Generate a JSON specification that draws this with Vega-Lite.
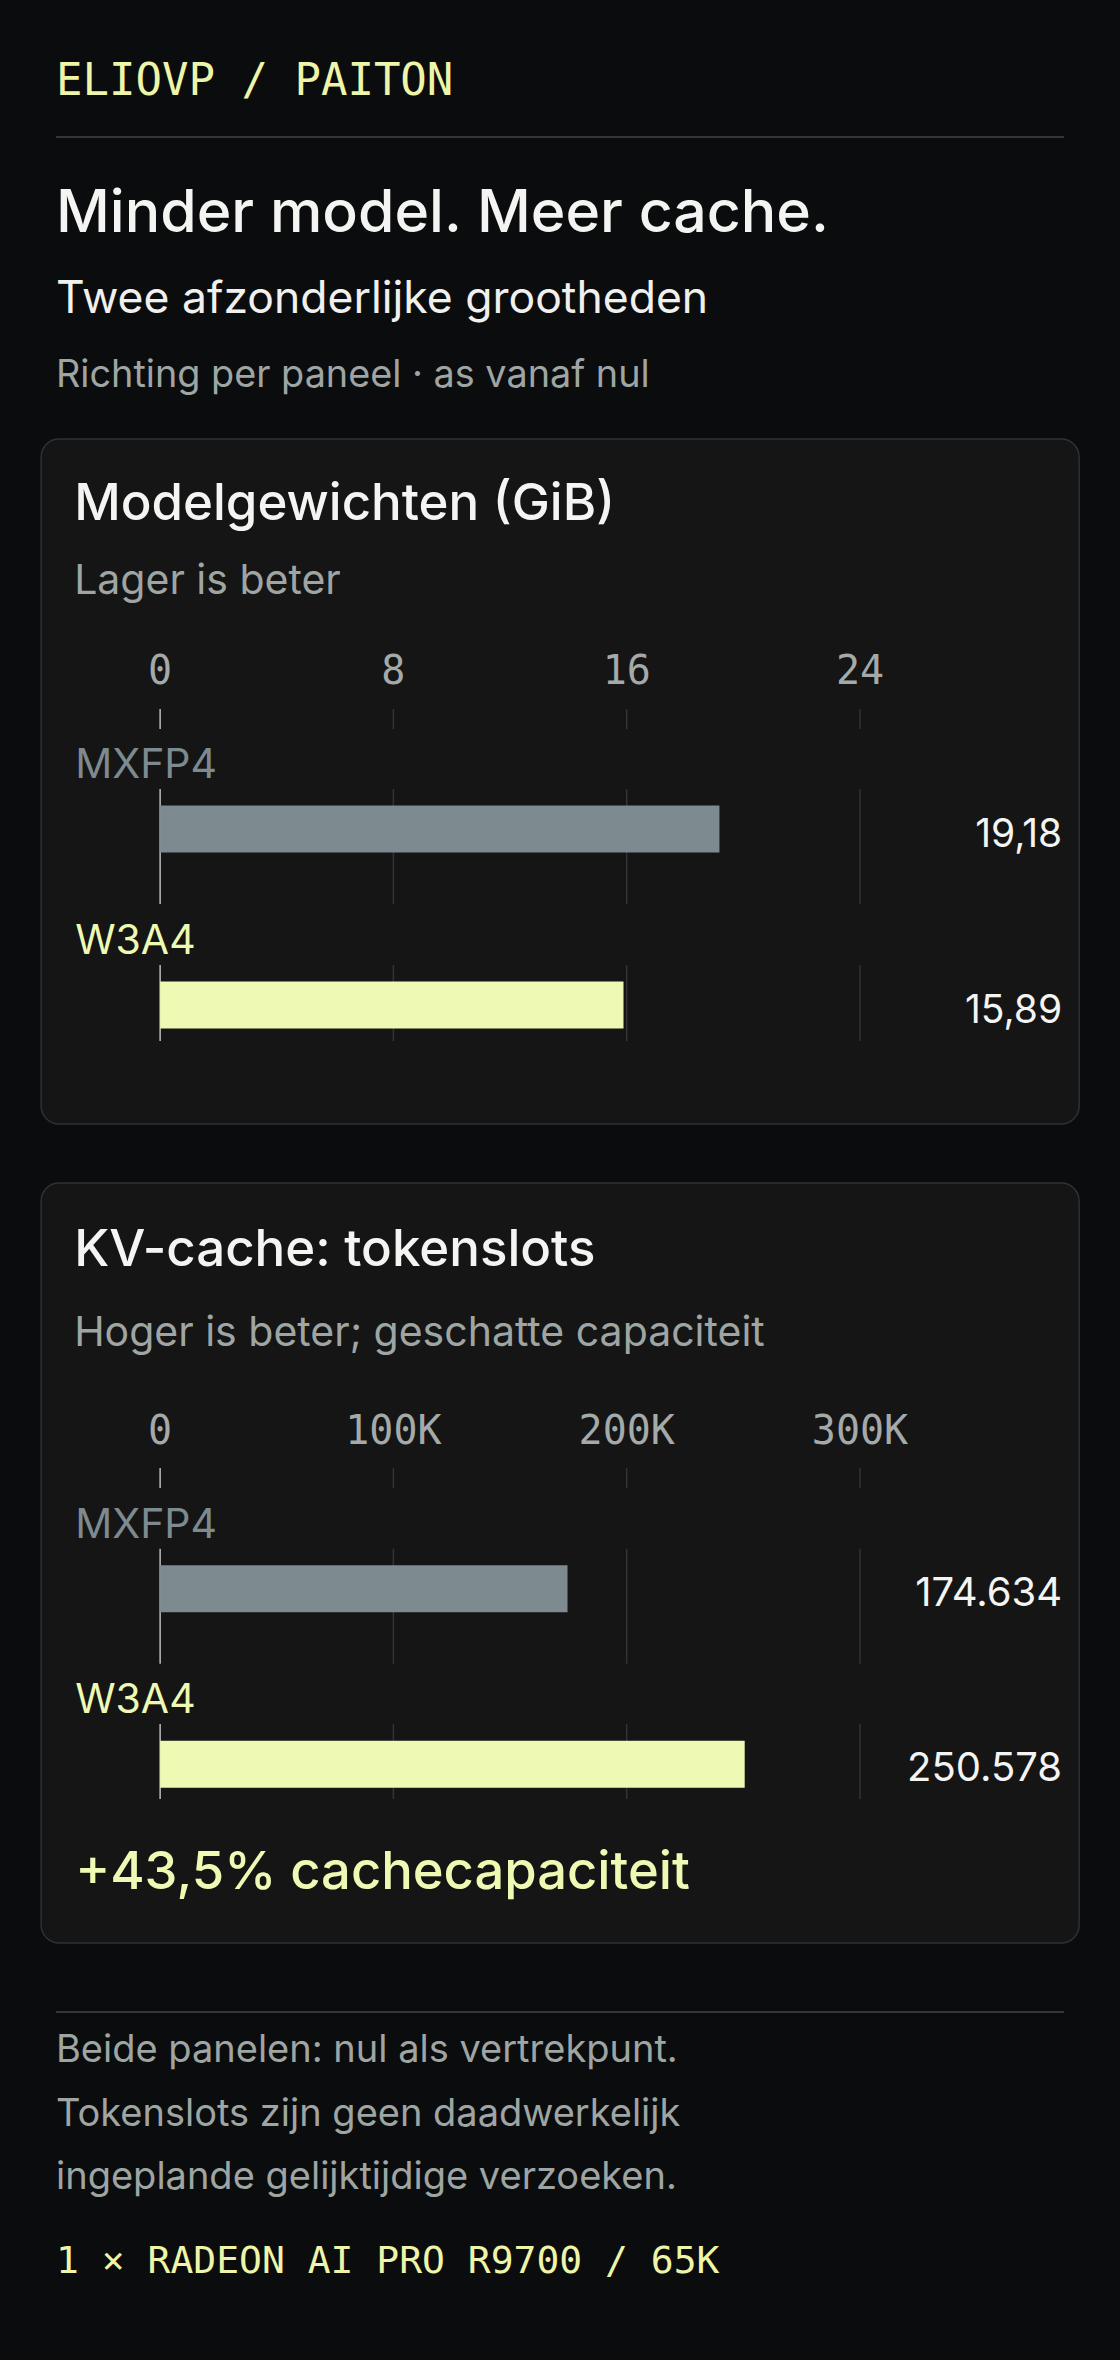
{
  "$schema": "https://vega.github.io/schema/vega-lite/v6.json",
  "background": "#0b0c0d",
  "padding": {"left": 40, "right": 42, "top": 0, "bottom": 0},
  "spacing": 18,
  "center": true,
  "vconcat": [
    {
      "width": 1008,
      "height": 420,
      "view": {"stroke": null},
      "data": {
        "values": [
          {"line": "brand", "text": "ELIOVP / PAITON"},
          {"line": "rule", "text": ""},
          {"line": "title", "text": "Minder model. Meer cache."},
          {"line": "subtitle", "text": "Twee afzonderlijke grootheden"},
          {"line": "note", "text": "Richting per paneel · as vanaf nul"}
        ]
      },
      "encoding": {
        "x": {"datum": 0, "type": "quantitative", "scale": {"domain": [0, 1], "nice": false}, "axis": null},
        "y": {
          "field": "line",
          "type": "nominal",
          "scale": {"type": "point", "domain": ["brand", "rule", "title", "subtitle", "note"], "range": [95, 387], "padding": 0},
          "axis": null
        }
      },
      "layer": [
        {
          "transform": [{"filter": "datum.line === 'brand'"}],
          "mark": {"type": "text", "align": "left", "baseline": "alphabetic", "font": "DejaVu Sans Mono", "fontSize": 44, "color": "#eef5a8"},
          "encoding": {"text": {"field": "text"}}
        },
        {
          "transform": [{"filter": "datum.line === 'rule'"}],
          "mark": {"type": "rule", "color": "#33373a", "strokeWidth": 2, "yOffset": -31},
          "encoding": {"x2": {"datum": 1}}
        },
        {
          "transform": [{"filter": "datum.line === 'title'"}],
          "mark": {"type": "text", "align": "left", "baseline": "alphabetic", "dy": -9, "font": "Inter", "fontSize": 59, "fontWeight": 500, "color": "#f4f4f2"},
          "encoding": {"text": {"field": "text"}}
        },
        {
          "transform": [{"filter": "datum.line === 'subtitle'"}],
          "mark": {"type": "text", "align": "left", "baseline": "alphabetic", "dy": -1, "font": "Inter", "fontSize": 44.5, "color": "#f0f0ee"},
          "encoding": {"text": {"field": "text"}}
        },
        {
          "transform": [{"filter": "datum.line === 'note'"}],
          "mark": {"type": "text", "align": "left", "baseline": "alphabetic", "font": "Inter", "fontSize": 37.8, "color": "#9ea5a3"},
          "encoding": {"text": {"field": "text"}}
        }
      ]
    },
    {
      "spacing": 57,
      "vconcat": [
        {
          "width": 1038,
          "height": 685,
          "view": {"fill": "#151515", "stroke": "#2e3235", "strokeWidth": 1.5, "cornerRadius": 18},
          "title": {
            "text": "Modelgewichten (GiB)",
            "subtitle": "Lager is beter",
            "orient": "top",
            "anchor": "start",
            "frame": "group",
            "offset": -164,
            "dx": 33,
            "font": "Inter",
            "fontSize": 51,
            "fontWeight": 500,
            "color": "#f4f4f2",
            "subtitleFont": "Inter",
            "subtitleFontSize": 41,
            "subtitleColor": "#9ea5a3",
            "subtitlePadding": 31
          },
          "data": {"values": [{"model": "MXFP4", "gib": 19.18}, {"model": "W3A4", "gib": 15.89}]},
          "layer": [
            {
              "data": {"values": [{"tick": 0}, {"tick": 8}, {"tick": 16}, {"tick": 24}]},
              "mark": {"type": "tick", "orient": "vertical", "size": 115, "thickness": 1.5, "yOffset": 17.5, "opacity": 1},
              "encoding": {
                "x": {"field": "tick", "type": "quantitative", "scale": {"domain": [0, 31], "range": [119, 1023], "nice": false, "zero": true}, "axis": null},
                "y": {"datum": "MXFP4", "type": "nominal", "scale": {"domain": ["MXFP4", "W3A4"], "range": [302, 654], "paddingInner": 0, "paddingOuter": 0}, "axis": null},
                "color": {"condition": {"test": "datum.tick === 0", "value": "#b9bdbd"}, "value": "#303437"}
              }
            },
            {
              "data": {"values": [{"tick": 0}, {"tick": 8}, {"tick": 16}, {"tick": 24}]},
              "mark": {"type": "tick", "orient": "vertical", "size": 76, "thickness": 1.5, "yOffset": -2, "opacity": 1},
              "encoding": {
                "x": {"field": "tick", "type": "quantitative", "axis": null},
                "y": {"datum": "W3A4", "type": "nominal", "axis": null},
                "color": {"condition": {"test": "datum.tick === 0", "value": "#b9bdbd"}, "value": "#303437"}
              }
            },
            {
              "data": {"values": [{"tick": 0}, {"tick": 8}, {"tick": 16}, {"tick": 24}]},
              "mark": {"type": "tick", "orient": "vertical", "size": 20, "thickness": 1.5, "yOffset": -110, "opacity": 1},
              "encoding": {
                "x": {"field": "tick", "type": "quantitative", "axis": null},
                "y": {"datum": "MXFP4", "type": "nominal", "axis": null},
                "color": {"condition": {"test": "datum.tick === 0", "value": "#b9bdbd"}, "value": "#303437"}
              }
            },
            {
              "data": {"values": [{"tick": 0}, {"tick": 8}, {"tick": 16}, {"tick": 24}]},
              "mark": {"type": "text", "align": "center", "baseline": "alphabetic", "dy": -145, "font": "DejaVu Sans Mono", "fontSize": 40, "color": "#a4aaa9"},
              "encoding": {
                "x": {"field": "tick", "type": "quantitative", "axis": null},
                "y": {"datum": "MXFP4", "type": "nominal", "axis": null},
                "text": {"field": "tick", "type": "quantitative", "format": "d"}
              }
            },
            {
              "mark": {"type": "bar", "size": 47},
              "encoding": {
                "x": {"field": "gib", "type": "quantitative", "axis": null},
                "y": {"field": "model", "type": "nominal", "axis": null},
                "color": {"field": "model", "type": "nominal", "scale": {"domain": ["MXFP4", "W3A4"], "range": ["#7d8a90", "#eefab4"]}, "legend": null}
              }
            },
            {
              "mark": {"type": "text", "align": "left", "baseline": "alphabetic", "dx": -85, "dy": -51, "font": "Inter", "fontSize": 41},
              "encoding": {
                "x": {"datum": 0, "type": "quantitative", "axis": null},
                "y": {"field": "model", "type": "nominal", "axis": null},
                "text": {"field": "model"},
                "color": {"field": "model", "type": "nominal", "legend": null}
              }
            },
            {
              "mark": {"type": "text", "align": "right", "baseline": "alphabetic", "dx": -2, "dy": 17.5, "font": "Inter", "fontSize": 39, "color": "#f4f4f2"},
              "encoding": {
                "x": {"datum": 31, "type": "quantitative", "axis": null},
                "y": {"field": "model", "type": "nominal", "axis": null},
                "text": {"field": "gib", "type": "quantitative", "format": ",.2f"}
              }
            }
          ]
        },
        {
          "width": 1038,
          "height": 760,
          "view": {"fill": "#151515", "stroke": "#2e3235", "strokeWidth": 1.5, "cornerRadius": 18},
          "title": {
            "text": "KV-cache: tokenslots",
            "subtitle": "Hoger is beter; geschatte capaciteit",
            "orient": "top",
            "anchor": "start",
            "frame": "group",
            "offset": -172,
            "dx": 33,
            "font": "Inter",
            "fontSize": 51,
            "fontWeight": 500,
            "color": "#f4f4f2",
            "subtitleFont": "Inter",
            "subtitleFontSize": 41,
            "subtitleColor": "#9ea5a3",
            "subtitlePadding": 37
          },
          "data": {"values": [{"model": "MXFP4", "slots": 174634}, {"model": "W3A4", "slots": 250578}]},
          "layer": [
            {
              "data": {"values": [{"tick": 0}, {"tick": 100000}, {"tick": 200000}, {"tick": 300000}]},
              "mark": {"type": "tick", "orient": "vertical", "size": 115, "thickness": 1.5, "yOffset": 17.5, "opacity": 1},
              "encoding": {
                "x": {"field": "tick", "type": "quantitative", "scale": {"domain": [0, 387500], "range": [119, 1023], "nice": false, "zero": true}, "axis": null},
                "y": {"datum": "MXFP4", "type": "nominal", "scale": {"domain": ["MXFP4", "W3A4"], "range": [318, 669], "paddingInner": 0, "paddingOuter": 0}, "axis": null},
                "color": {"condition": {"test": "datum.tick === 0", "value": "#b9bdbd"}, "value": "#303437"}
              }
            },
            {
              "data": {"values": [{"tick": 0}, {"tick": 100000}, {"tick": 200000}, {"tick": 300000}]},
              "mark": {"type": "tick", "orient": "vertical", "size": 75, "thickness": 1.5, "yOffset": -2.75, "opacity": 1},
              "encoding": {
                "x": {"field": "tick", "type": "quantitative", "axis": null},
                "y": {"datum": "W3A4", "type": "nominal", "axis": null},
                "color": {"condition": {"test": "datum.tick === 0", "value": "#b9bdbd"}, "value": "#303437"}
              }
            },
            {
              "data": {"values": [{"tick": 0}, {"tick": 100000}, {"tick": 200000}, {"tick": 300000}]},
              "mark": {"type": "tick", "orient": "vertical", "size": 20, "thickness": 1.5, "yOffset": -110.75, "opacity": 1},
              "encoding": {
                "x": {"field": "tick", "type": "quantitative", "axis": null},
                "y": {"datum": "MXFP4", "type": "nominal", "axis": null},
                "color": {"condition": {"test": "datum.tick === 0", "value": "#b9bdbd"}, "value": "#303437"}
              }
            },
            {
              "data": {"values": [{"tick": 0, "label": "0"}, {"tick": 100000, "label": "100K"}, {"tick": 200000, "label": "200K"}, {"tick": 300000, "label": "300K"}]},
              "mark": {"type": "text", "align": "center", "baseline": "alphabetic", "dy": -145, "font": "DejaVu Sans Mono", "fontSize": 40, "color": "#a4aaa9"},
              "encoding": {
                "x": {"field": "tick", "type": "quantitative", "axis": null},
                "y": {"datum": "MXFP4", "type": "nominal", "axis": null},
                "text": {"field": "label"}
              }
            },
            {
              "mark": {"type": "bar", "size": 47},
              "encoding": {
                "x": {"field": "slots", "type": "quantitative", "axis": null},
                "y": {"field": "model", "type": "nominal", "axis": null},
                "color": {"field": "model", "type": "nominal", "scale": {"domain": ["MXFP4", "W3A4"], "range": ["#7d8a90", "#eefab4"]}, "legend": null}
              }
            },
            {
              "mark": {"type": "text", "align": "left", "baseline": "alphabetic", "dx": -85, "dy": -51, "font": "Inter", "fontSize": 41},
              "encoding": {
                "x": {"datum": 0, "type": "quantitative", "axis": null},
                "y": {"field": "model", "type": "nominal", "axis": null},
                "text": {"field": "model"},
                "color": {"field": "model", "type": "nominal", "legend": null}
              }
            },
            {
              "mark": {"type": "text", "align": "right", "baseline": "alphabetic", "dx": -2, "dy": 17, "font": "Inter", "fontSize": 40, "color": "#f4f4f2"},
              "encoding": {
                "x": {"datum": 387500, "type": "quantitative", "axis": null},
                "y": {"field": "model", "type": "nominal", "axis": null},
                "text": {"field": "slots", "type": "quantitative", "format": ",d"}
              }
            },
            {
              "data": {"values": [{"model": "W3A4", "note": "+43,5% cachecapaciteit"}]},
              "mark": {"type": "text", "align": "left", "baseline": "alphabetic", "dx": -85, "dy": 125, "font": "Inter", "fontSize": 52.5, "fontWeight": 500, "color": "#eefab4"},
              "encoding": {
                "x": {"datum": 0, "type": "quantitative", "axis": null},
                "y": {"field": "model", "type": "nominal", "axis": null},
                "text": {"field": "note"}
              }
            }
          ]
        }
      ]
    },
    {
      "width": 1008,
      "height": 402,
      "view": {"stroke": null},
      "data": {
        "values": [
          {"line": "rule", "text": ""},
          {"line": "note", "text": ["Beide panelen: nul als vertrekpunt.", "Tokenslots zijn geen daadwerkelijk", "ingeplande gelijktijdige verzoeken."]},
          {"line": "hw", "text": "1 × RADEON AI PRO R9700 / 65K"}
        ]
      },
      "encoding": {
        "x": {"datum": 0, "type": "quantitative", "scale": {"domain": [0, 1], "nice": false}, "axis": null},
        "y": {
          "field": "line",
          "type": "nominal",
          "scale": {"type": "point", "domain": ["rule", "note", "hw"], "range": [50, 311], "padding": 0},
          "axis": null
        }
      },
      "layer": [
        {
          "transform": [{"filter": "datum.line === 'rule'"}],
          "mark": {"type": "rule", "color": "#33373a", "strokeWidth": 2},
          "encoding": {"x2": {"datum": 1}}
        },
        {
          "transform": [{"filter": "datum.line === 'note'"}],
          "mark": {"type": "text", "align": "left", "baseline": "alphabetic", "dy": -80.5, "lineHeight": 63.5, "font": "Inter", "fontSize": 38, "color": "#9ea5a3"},
          "encoding": {"text": {"field": "text"}}
        },
        {
          "transform": [{"filter": "datum.line === 'hw'"}],
          "mark": {"type": "text", "align": "left", "baseline": "alphabetic", "font": "DejaVu Sans Mono", "fontSize": 38, "color": "#eef5a8"},
          "encoding": {"text": {"field": "text"}}
        }
      ]
    }
  ],
  "config": {
    "view": {"stroke": null},
    "locale": {"number": {"decimal": ",", "thousands": ".", "grouping": [3], "currency": ["€", ""]}}
  }
}
